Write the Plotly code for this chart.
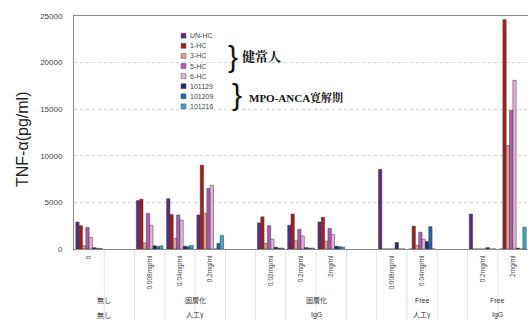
import plotly.graph_objects as go

# x-axis slots (blank strings are spacer slots between treatment groups)
slots = ["0", "", "0.008mg/ml", "0.04mg/ml", "0.2mg/ml", "",
         "0.02mg/ml", "0.2mg/ml", "2mg/ml", "",
         "0.008mg/ml", "0.04mg/ml", "",
         "0.2mg/ml", "2mg/ml"]

# treatment groups: (first slot, last slot), two label rows
group_spans = [(0, 1), (2, 5), (6, 9), (10, 12), (13, 14)]
group_row1 = ["無し", "固層化", "固層化", "Free", "Free"]
group_row2 = ["無し", "人工γ", "IgG", "人工γ", "IgG"]

series_names = ["UN-HC", "1-HC", "3-HC", "5-HC", "6-HC",
                "101129", "101209", "101216"]
series_colors = ["#5a2a84", "#a31f1f", "#dca08e", "#b25ab4", "#e3b4d6",
                 "#1d2a6e", "#1f68ad", "#38a9c9"]

N = None
tnf_values = [
    [2900, N, 5200, 5400, 3650, N, 2800, 2550, 2900, N, 8550, 0, N, 3750, 0],
    [2500, N, 5350, 3700, 9000, N, 3450, 3750, 3400, N, 0, 2450, N, 0, 24600],
    [350, N, 650, 1150, 3850, N, 600, 900, 850, N, 0, 400, N, 0, 11100],
    [2300, N, 3800, 3650, 6500, N, 2500, 2100, 2200, N, 0, 1800, N, 0, 14900],
    [1250, N, 2550, 3100, 6850, N, 1050, 1400, 1550, N, 0, 1050, N, 0, 18100],
    [150, N, 350, 300, 0, N, 200, 150, 300, N, 700, 800, N, 150, 100],
    [80, N, 250, 250, 600, N, 100, 100, 250, N, 0, 2400, N, 0, 0],
    [50, N, 350, 400, 1450, N, 100, 100, 200, N, 0, 0, N, 0, 2350],
]

y_ticks = [0, 5000, 10000, 15000, 20000, 25000]

# page geometry
W, H = 528, 320
ML, MR, MT, MB = 74, 0, 16, 71
PW, PH = W - ML - MR, H - MT - MB


def px(xp):
    return (xp - ML) / PW


def py(yp):
    return (H - MB - yp) / PH


SANS = "Liberation Sans, Arial, Noto Sans CJK JP"
SERIF = "Liberation Serif, Noto Serif CJK JP, Noto Sans CJK JP"


def note(x, y, text, size, color, family=SANS, xanchor="center",
         xref="paper", **kw):
    return dict(x=x, y=y, xref=xref, yref="paper", text=text,
                showarrow=False, xanchor=xanchor, yanchor="middle",
                font=dict(family=family, size=size, color=color), **kw)


x_idx = list(range(len(slots)))

fig = go.Figure()
for name, color, vals in zip(series_names, series_colors, tnf_values):
    fig.add_trace(go.Bar(
        x=x_idx, y=vals, name=name,
        marker=dict(color=color, line=dict(color="#3a3a3a", width=0.5)),
        showlegend=False,
    ))

shapes = []
annotations = []

# faint dividers through the category label area
for i in range(len(slots) - 1):
    shapes.append(dict(type="line", xref="x", yref="paper",
                       x0=i + 0.5, x1=i + 0.5, y0=0, y1=-0.31,
                       line=dict(color="#e4e4e4", width=1), layer="below"))

# group labels under the concentration ticks
for (a, b), r1, r2 in zip(group_spans, group_row1, group_row2):
    xc = (a + b) / 2
    annotations.append(note(xc, py(300), r1, 7, "#333", xref="x"))
    annotations.append(note(xc, py(315), r2, 7, "#333", xref="x"))

# compact legend
for i, (name, color) in enumerate(zip(series_names, series_colors)):
    yc = 35.7 + i * 10.1
    shapes.append(dict(type="rect", xref="paper", yref="paper",
                       x0=px(181), x1=px(186), y0=py(yc + 2.5), y1=py(yc - 2.5),
                       fillcolor=color, line=dict(color="#555", width=0.5)))
    annotations.append(note(px(187.5), py(yc), name, 7, "#444",
                            xanchor="left"))

# braces and group captions
annotations.append(note(px(233), py(56), "}", 30, "#111"))
annotations.append(note(px(240), py(56), "<b>健常人</b>", 13, "#111",
                        family=SERIF, xanchor="left"))
annotations.append(note(px(237), py(95), "}", 30, "#111"))
annotations.append(note(px(247), py(97), "<b>MPO-ANCA寛解期</b>", 11, "#111",
                        family=SERIF, xanchor="left"))

# y-axis title
annotations.append(note(px(22), py(140), "TNF-α(pg/ml)", 16, "#222",
                        textangle=-90))

fig.update_layout(
    width=W, height=H,
    margin=dict(l=ML, r=MR, t=MT, b=MB, pad=0),
    paper_bgcolor="white", plot_bgcolor="white",
    barmode="group", bargap=0.12, bargroupgap=0,
    font=dict(family=SANS),
    shapes=shapes, annotations=annotations,
    xaxis=dict(range=[-0.5, len(slots) - 0.5], tickmode="array",
               tickvals=x_idx, ticktext=slots, tickangle=-90,
               tickfont=dict(size=6.5, color="#444"),
               showgrid=False, zeroline=False,
               showline=True, linecolor="#888", linewidth=1, mirror=True,
               ticks="", ticklabelstandoff=3),
    yaxis=dict(range=[0, 25000], tickmode="array", tickvals=y_ticks,
               ticktext=[str(v) for v in y_ticks],
               tickfont=dict(size=8, color="#444"),
               showgrid=True, gridcolor="#d8d8d8", griddash="dot",
               zeroline=False, showline=True, linecolor="#888",
               linewidth=1, ticks="", ticklabelstandoff=9),
)

fig.write_html("out.html")
